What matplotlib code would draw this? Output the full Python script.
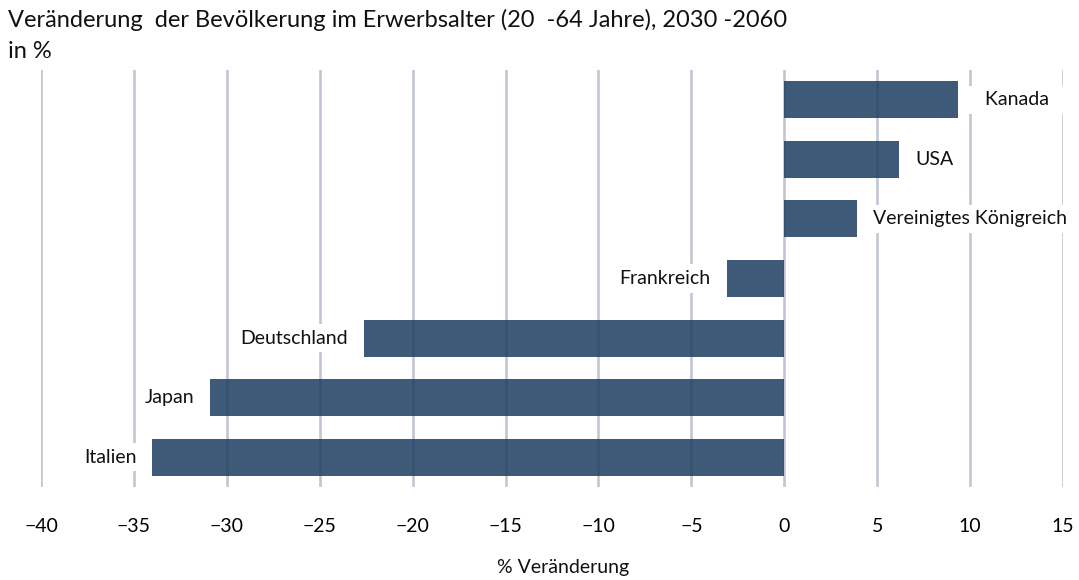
import matplotlib
matplotlib.use("Agg")
import matplotlib.pyplot as plt
from matplotlib.ticker import FuncFormatter
import matplotlib.transforms as mtransforms

plt.rcParams['font.family'] = ['Lato', 'DejaVu Sans']

countries = ["Italien", "Japan", "Deutschland", "Frankreich",
             "Vereinigtes Königreich", "USA", "Kanada"]
changes = [-34.0, -30.9, -22.6, -3.1, 3.9, 6.2, 9.35]
xticks = [-40, -35, -30, -25, -20, -15, -10, -5, 0, 5, 10, 15]

title = "Veränderung  der Bevölkerung im Erwerbsalter (20  -64 Jahre), 2030 -2060"
subtitle = "in %"
xlabel = "% Veränderung"

fig = plt.figure(figsize=(10.79, 5.80), dpi=100)
ax = fig.add_axes([41/1079, 1-487/580, (1063-41)/1079, (487-70)/580])

ypos = list(range(len(countries)))
ax.barh(ypos, changes, height=0.62, color='#1d3d60', alpha=0.85, zorder=3)

ax.set_xlim(-40, 15)
ax.set_ylim(-0.5, 6.5)
ax.set_xticks(xticks)
ax.xaxis.set_major_formatter(FuncFormatter(lambda v, p: f"{int(v)}".replace("-", "\u2212")))
ax.set_yticks([])
ax.grid(axis='x', color='#c2c6d3', linewidth=1.9, zorder=0)
ax.set_axisbelow(True)
for s in ax.spines.values():
    s.set_visible(False)
ax.tick_params(axis='x', length=0, pad=22, labelsize=14)

for y, v, name in zip(ypos, changes, countries):
    is_max = v == max(changes)
    off = (16 if not is_max else 12) if v >= 0 else -16
    label = f"   {name}   " if is_max else name
    tr = ax.transData + mtransforms.ScaledTranslation(off/100, 0, fig.dpi_scale_trans)
    ax.text(v, y, label, transform=tr, ha='left' if v >= 0 else 'right', va='center',
            fontsize=14, color='#111111', zorder=4,
            bbox=dict(facecolor='white', edgecolor='none', pad=4))

fig.text(8/1079, 1-20/580, title, fontsize=17, ha='left', va='center', color='#111111')
fig.text(8/1079, 1-52/580, subtitle, fontsize=17, ha='left', va='center', color='#111111')
fig.text(563/1079, 1-568/580, xlabel, fontsize=14, ha='center', va='center', color='#111111')

fig.savefig("out.png", dpi=100)
